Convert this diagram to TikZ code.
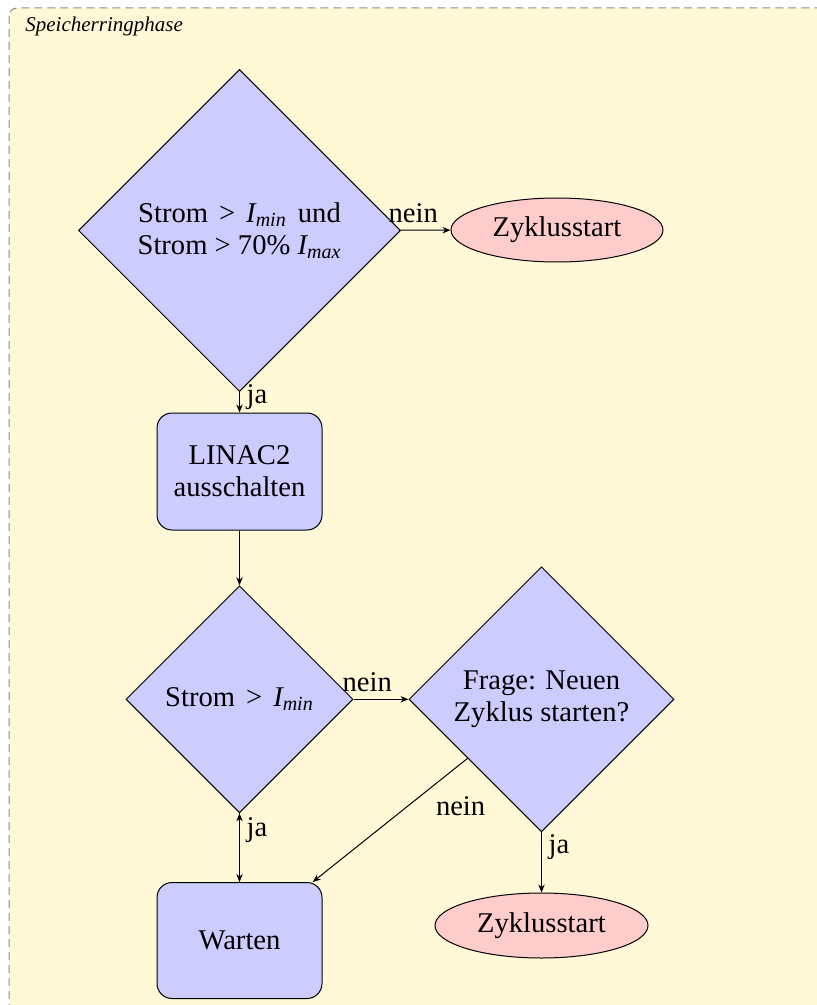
\documentclass[tikz,border=0pt]{standalone}
\usepackage{fontspec}
\setmainfont{Liberation Serif}
\usepackage{tikz}
\usetikzlibrary{shapes.geometric,arrows.meta}

\definecolor{phasebg}{RGB}{255,249,215}
\definecolor{phaserand}{RGB}{140,140,140}
\newcommand{\flfont}{\fontsize{14.3}{16}\selectfont}
\newcommand{\Imin}{\textit{I\textsubscript{min}}}
\newcommand{\Imax}{\textit{I\textsubscript{max}}}
\newcommand{\gr}{\hspace{5.5pt}>\hspace{5.5pt}}

\tikzset{
  frage/.style={diamond,draw=black,fill=blue!20,line width=0.5pt,inner sep=0pt,align=center},
  aktion/.style={rectangle,rounded corners=7.5pt,draw=black,fill=blue!20,line width=0.5pt,align=center},
  ende/.style={ellipse,draw=black,fill=red!20,line width=0.5pt,inner sep=0pt},
  pfeil/.style={-{Stealth[length=4pt,width=3.2pt]},line width=0.5pt}
}

\begin{document}
\begin{tikzpicture}[x=0.5pt,y=-0.5pt,font=\flfont]
  \useasboundingbox (0,0) rectangle (816,1005);
  \draw[phaserand,fill=phasebg,line width=0.5pt,dash pattern=on 4pt off 2.5pt,rounded corners=4pt]
    (9,8) rectangle (830,1020);
  \node[anchor=base west,inner sep=0pt,font=\fontsize{10.5}{12}\selectfont\itshape] (titel) at (25,32) {Speicherringphase};

  % Entscheidungen
  \node[frage,minimum size=161pt] (strom1) at (239.5,230.5) {Strom\gr\Imin{}\hspace{2pt} und\\Strom > 70\% \Imax};
  \node[frage,minimum size=113.5pt] (strom2) at (239.5,699.3) {Strom\gr\Imin};
  \node[frage,minimum size=132.5pt] (neu) at (541.5,699.3) {Frage: Neuen\\Zyklus starten?};

  % Aktionen
  \node[aktion,minimum width=82.5pt,minimum height=58.5pt] (linac) at (239.5,471.5) {LINAC2\\ausschalten};
  \node[aktion,minimum width=82.5pt,minimum height=58pt] (warten) at (239.5,940.5) {Warten};

  % Zyklusstart
  \node[ende,minimum width=106pt,minimum height=32pt] (start1) at (557,230) {Zyklusstart};
  \node[ende,minimum width=106.5pt,minimum height=32.5pt] (start2) at (541.5,925.5) {Zyklusstart};

  \draw[pfeil] (strom1) -- node[above,near start] {nein} (start1);
  \draw[pfeil] (strom1) -- node[right,near start] {ja} (linac);
  \draw[pfeil] (linac) -- (strom2);
  \draw[pfeil] (strom2) -- node[above,near start] {nein} (neu);
  \draw[pfeil] (strom2) -- node[right,near start] {ja} (warten);
  \draw[pfeil] (warten) -- (strom2);
  \draw[pfeil] (neu) -- node[right,near start] {ja} (start2);
  \draw[pfeil] (neu) -- node[below right,near start] {nein} (warten);
\end{tikzpicture}
\end{document}
